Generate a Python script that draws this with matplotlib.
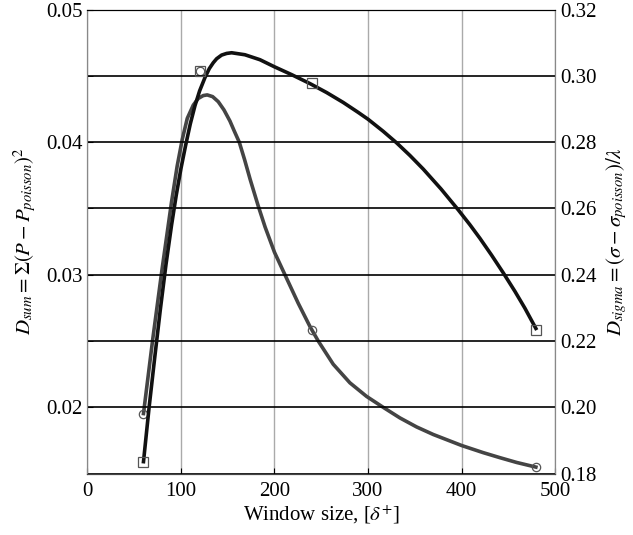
import numpy as np
import matplotlib.pyplot as plt
from matplotlib.ticker import MultipleLocator

plt.rcParams['font.family'] = ['Liberation Serif', 'DejaVu Serif']
plt.rcParams['mathtext.fontset'] = 'stix'

# D_sum curve (grey, left axis)
sum_x = [60, 70, 80, 90, 96, 101.4, 106.8, 113.2, 118.5, 123.9, 128.1, 133.9, 139.9,
         146.0, 152.4, 157.0, 162.4, 168.0, 174.0, 182.6, 190.0, 200.0, 211.2, 225.4,
         237.9, 246.8, 262.8, 280.6, 298.5, 316.2, 334.1, 351.9, 369.7, 400.0, 423.1,
         441.0, 458.8, 479.4]
sum_y = [0.01953, 0.0252, 0.0305, 0.0355, 0.0382, 0.0402, 0.0418, 0.0428, 0.04330,
         0.04352, 0.04357, 0.04344, 0.04306, 0.04244, 0.04160, 0.04085, 0.04000,
         0.03870, 0.03720, 0.03520, 0.03360, 0.03170, 0.03000, 0.02785, 0.02610,
         0.02500, 0.02325, 0.02185, 0.02082, 0.02000, 0.01920, 0.01852, 0.01795,
         0.01712, 0.01658, 0.01620, 0.01584, 0.01549]
sum_mx = [60, 120, 240, 480]
sum_my = [0.01953, 0.0454, 0.02585, 0.0155]

# D_sigma curve (black, right axis)
sig_x = [60, 66, 72, 78, 84, 90, 95, 100, 105, 110, 115, 120, 125.7, 130.3, 134.6,
         138.2, 143.5, 148.9, 154.2, 168.4, 184.5, 199.7, 218.3, 237.9, 255.7, 273.5,
         289.5, 300.2, 316.2, 330.6, 344.8, 359.0, 378.0, 396.4, 408.9, 419.6, 432.1,
         444.5, 457.0, 467.7, 479.4]
sig_y = [0.1836, 0.2000, 0.2150, 0.2295, 0.2430, 0.2550, 0.2640, 0.2720, 0.2790,
         0.2855, 0.2910, 0.2955, 0.2995, 0.3022, 0.3040, 0.3052, 0.3063, 0.3068,
         0.3070, 0.3064, 0.3049, 0.3028, 0.3004, 0.2977, 0.2950, 0.2920, 0.2890,
         0.2869, 0.2833, 0.2798, 0.2760, 0.2719, 0.2659, 0.2596, 0.2551, 0.2510,
         0.2459, 0.2406, 0.2350, 0.2299, 0.2238]
sig_mx = [60, 120, 240, 480]
sig_my = [0.1836, 0.3016, 0.298, 0.2234]

fig = plt.figure(figsize=(6.33, 5.35), dpi=100)
ax = fig.add_axes([0.138, 0.1148, 0.739, 0.8671])
ax2 = ax.twinx()

ax.set_xlim(0, 500)
ax.set_ylim(0.015, 0.05)
ax2.set_ylim(0.18, 0.32)

ax.xaxis.set_major_locator(MultipleLocator(100))
ax.yaxis.set_major_locator(MultipleLocator(0.01))
ax.yaxis.set_minor_locator(MultipleLocator(0.005))
ax2.yaxis.set_major_locator(MultipleLocator(0.02))

ax.grid(axis='x', color='#aaaaaa', lw=1.0, zorder=0)
ax2.grid(axis='y', color='black', lw=1.2)
ax.set_axisbelow(True)
ax2.set_axisbelow(True)

ax.plot(sum_x, sum_y, color='#444444', lw=2.6, zorder=3, solid_joinstyle='round')
ax.plot(sum_mx, sum_my, 'o', ls='none', mfc='none', mec='#555555', ms=6, mew=0.9, zorder=4)
ax2.plot(sig_x, sig_y, color='#111111', lw=2.6, zorder=3, solid_joinstyle='round')
ax2.plot(sig_mx, sig_my, 's', ls='none', mfc='none', mec='#555555', ms=6.5, mew=0.9, zorder=4)

ax.tick_params(axis='both', which='both', direction='in', length=4, labelsize=15,
               color='black')
ax.tick_params(axis='x', length=4, pad=6)
ax2.tick_params(axis='y', direction='in', length=0, labelsize=15, pad=4)

for a in (ax, ax2):
    a.spines['left'].set_color('#888888')
    a.spines['right'].set_color('#888888')
    a.spines['bottom'].set_color('#444444')
    a.spines['top'].set_color('black')

ax.set_xlabel(r'Window size, [$\delta^{+}$]', fontsize=15, labelpad=2)
ax.set_ylabel(r'$D_{sum} = \Sigma(P - P_{poisson})^2$', fontsize=15, labelpad=5)
ax2.set_ylabel(r'$D_{sigma} = (\sigma - \sigma_{poisson})/\lambda$', fontsize=15, labelpad=5)

fig.savefig('out.png', dpi=100)
